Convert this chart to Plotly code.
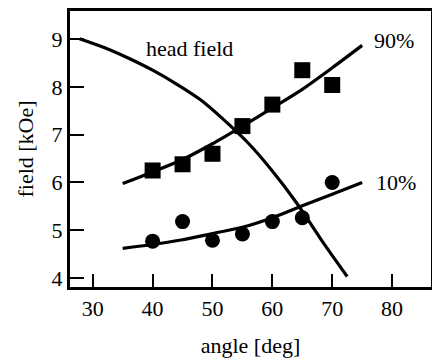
import plotly.graph_objects as go

angles = [40, 45, 50, 55, 60, 65, 70]
field_90 = [6.25, 6.38, 6.6, 7.18, 7.63, 8.35, 8.04]
field_10 = [4.77, 5.18, 4.79, 4.92, 5.18, 5.26, 6.0]

fit_angles = [35, 40, 45, 50, 55, 60, 65, 70, 75]
fit_90 = [5.98, 6.22, 6.48, 6.81, 7.18, 7.56, 7.95, 8.4, 8.87]
fit_10 = [4.62, 4.7, 4.8, 4.93, 5.06, 5.26, 5.51, 5.75, 6.0]

head_angles = [27.8, 32, 36, 40, 44, 48, 52, 56, 60, 64, 68, 72.5]
head_field = [9.01, 8.82, 8.6, 8.35, 8.06, 7.73, 7.3, 6.82, 6.24, 5.58, 4.83, 4.03]

font = "Liberation Serif"
fs = 22
fig = go.Figure()
for xs, ys in [(head_angles, head_field), (fit_angles, fit_90), (fit_angles, fit_10)]:
    fig.add_trace(go.Scatter(x=xs, y=ys, mode="lines",
                             line=dict(color="black", width=3.2, shape="spline", smoothing=0.8)))
fig.add_trace(go.Scatter(x=angles, y=field_90, mode="markers",
                         marker=dict(symbol="square", size=16, color="black")))
fig.add_trace(go.Scatter(x=angles, y=field_10, mode="markers",
                         marker=dict(symbol="circle", size=15, color="black")))

fig.add_annotation(x=46.2, y=8.8, text="head field", showarrow=False,
                   xanchor="center", yanchor="middle", font=dict(family=font, size=fs, color="black"))
fig.add_annotation(x=80.3, y=8.98, text="90%", showarrow=False,
                   xanchor="center", yanchor="middle", font=dict(family=font, size=fs, color="black"))
fig.add_annotation(x=80.7, y=6.0, text="10%", showarrow=False,
                   xanchor="center", yanchor="middle", font=dict(family=font, size=fs, color="black"))

fig.update_layout(
    width=432, height=360,
    margin=dict(l=70, r=1, t=11, b=73),
    plot_bgcolor="white", paper_bgcolor="white",
    showlegend=False,
    font=dict(family=font, size=fs, color="black"),
)
fig.update_xaxes(range=[26.2, 86.5], tickvals=[30, 40, 50, 60, 70, 80],
                 ticks="inside", ticklen=13, tickwidth=2, tickcolor="black",
                 showline=True, linecolor="black", linewidth=3, mirror=True,
                 showgrid=False, zeroline=False, automargin=False,
                 title=dict(text="angle [deg]", standoff=18,
                            font=dict(family=font, size=fs, color="black")),
                 tickfont=dict(family=font, size=fs, color="black"))
fig.update_yaxes(range=[3.81, 9.59], tickvals=[4, 5, 6, 7, 8, 9],
                 ticks="inside", ticklen=14, tickwidth=2, tickcolor="black",
                 showline=True, linecolor="black", linewidth=3, mirror=True,
                 showgrid=False, zeroline=False, automargin=False,
                 title=dict(text="field [kOe]", standoff=12,
                            font=dict(family=font, size=fs, color="black")),
                 tickfont=dict(family=font, size=fs, color="black"))

fig.write_html("out.html", config={"displayModeBar": False},
               post_script="document.body.style.margin='0';document.body.style.overflow='hidden';")
